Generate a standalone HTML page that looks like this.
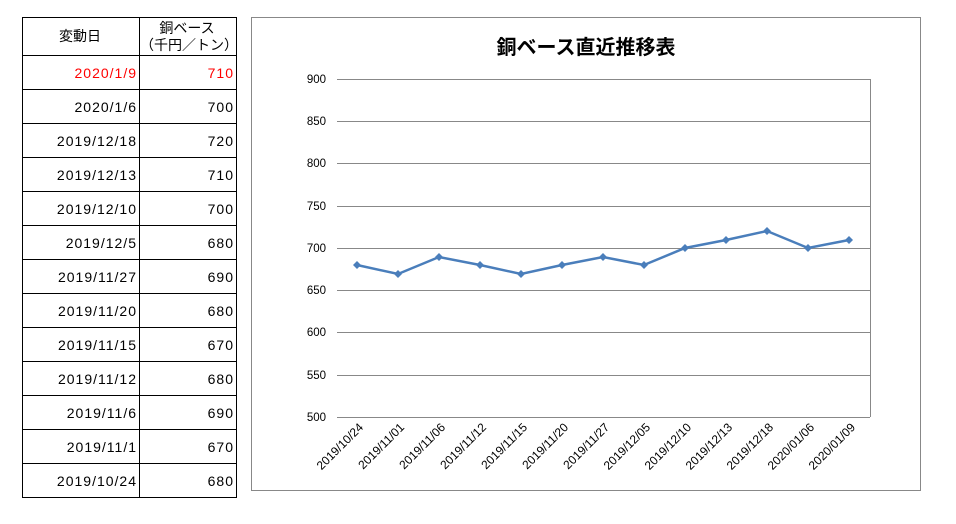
<!DOCTYPE html>
<html><head><meta charset="utf-8"><style>
body{margin:0;background:#fff;width:956px;height:524px;overflow:hidden;position:relative;font-family:"Liberation Sans","Noto Sans CJK JP",sans-serif;}
table{position:absolute;left:22px;top:17px;border-collapse:collapse;}
td{border:1.5px solid #000;height:33px;padding:0 2px 0 0;font-size:14px;text-align:right;font-family:"Liberation Sans","Noto Sans CJK JP",sans-serif;letter-spacing:1px;}
td.a{width:114px}td.b{width:94px}
.h td{text-align:center;height:37px;line-height:17px;font-size:14px;letter-spacing:0;font-family:"Noto Sans CJK JP",sans-serif}
.r td{color:#f00}
</style></head><body>
<table>
<tr class="h"><td class="a">変動日</td><td class="b">銅ベース<br>（千円／トン）</td></tr>
<tr class="r"><td>2020/1/9</td><td>710</td></tr>
<tr><td>2020/1/6</td><td>700</td></tr>
<tr><td>2019/12/18</td><td>720</td></tr>
<tr><td>2019/12/13</td><td>710</td></tr>
<tr><td>2019/12/10</td><td>700</td></tr>
<tr><td>2019/12/5</td><td>680</td></tr>
<tr><td>2019/11/27</td><td>690</td></tr>
<tr><td>2019/11/20</td><td>680</td></tr>
<tr><td>2019/11/15</td><td>670</td></tr>
<tr><td>2019/11/12</td><td>680</td></tr>
<tr><td>2019/11/6</td><td>690</td></tr>
<tr><td>2019/11/1</td><td>670</td></tr>
<tr><td>2019/10/24</td><td>680</td></tr>
</table>
<svg width="956" height="524" style="position:absolute;left:0;top:0">
<rect x="251.5" y="17.5" width="669" height="473" fill="none" stroke="#888" stroke-width="1"/>
<text x="586" y="54" text-anchor="middle" font-size="20" font-weight="bold" font-family="Noto Sans CJK JP,sans-serif">銅ベース直近推移表</text>
<g stroke="#888" stroke-width="1">
<line x1="337" x2="870" y1="79.5" y2="79.5"/><line x1="337" x2="870" y1="121.5" y2="121.5"/>
<line x1="337" x2="870" y1="163.5" y2="163.5"/><line x1="337" x2="870" y1="206.5" y2="206.5"/>
<line x1="337" x2="870" y1="248.5" y2="248.5"/><line x1="337" x2="870" y1="290.5" y2="290.5"/>
<line x1="337" x2="870" y1="332.5" y2="332.5"/><line x1="337" x2="870" y1="375.5" y2="375.5"/>
<line x1="337" x2="870" y1="417.5" y2="417.5"/><line x1="870.5" x2="870.5" y1="79" y2="417"/>
</g>
<g font-size="11.5" text-anchor="end" font-family="Liberation Sans,sans-serif">
<text x="326" y="83">900</text><text x="326" y="125">850</text><text x="326" y="167">800</text>
<text x="326" y="210">750</text><text x="326" y="252">700</text><text x="326" y="294">650</text>
<text x="326" y="336">600</text><text x="326" y="379">550</text><text x="326" y="421">500</text>
</g>
<polyline fill="none" stroke="#4a7ebb" stroke-width="2.5" points="357,265 398,274 439,257 480,265 521,274 562,265 603,257 644,265 685,248 726,240 767,231 808,248 849,240"/>
<g fill="#4a7ebb">
<path d="M357 261l4 4-4 4-4-4z"/><path d="M398 270l4 4-4 4-4-4z"/><path d="M439 253l4 4-4 4-4-4z"/>
<path d="M480 261l4 4-4 4-4-4z"/><path d="M521 270l4 4-4 4-4-4z"/><path d="M562 261l4 4-4 4-4-4z"/>
<path d="M603 253l4 4-4 4-4-4z"/><path d="M644 261l4 4-4 4-4-4z"/><path d="M685 244l4 4-4 4-4-4z"/>
<path d="M726 236l4 4-4 4-4-4z"/><path d="M767 227l4 4-4 4-4-4z"/><path d="M808 244l4 4-4 4-4-4z"/>
<path d="M849 236l4 4-4 4-4-4z"/>
</g>
<g font-size="12" text-anchor="end" font-family="Liberation Sans,sans-serif">
<text transform="translate(364,428) rotate(-45)">2019/10/24</text>
<text transform="translate(405,428) rotate(-45)">2019/11/01</text>
<text transform="translate(446,428) rotate(-45)">2019/11/06</text>
<text transform="translate(487,428) rotate(-45)">2019/11/12</text>
<text transform="translate(528,428) rotate(-45)">2019/11/15</text>
<text transform="translate(569,428) rotate(-45)">2019/11/20</text>
<text transform="translate(610,428) rotate(-45)">2019/11/27</text>
<text transform="translate(651,428) rotate(-45)">2019/12/05</text>
<text transform="translate(692,428) rotate(-45)">2019/12/10</text>
<text transform="translate(733,428) rotate(-45)">2019/12/13</text>
<text transform="translate(774,428) rotate(-45)">2019/12/18</text>
<text transform="translate(815,428) rotate(-45)">2020/01/06</text>
<text transform="translate(856,428) rotate(-45)">2020/01/09</text>
</g>
</svg>
</body></html>
